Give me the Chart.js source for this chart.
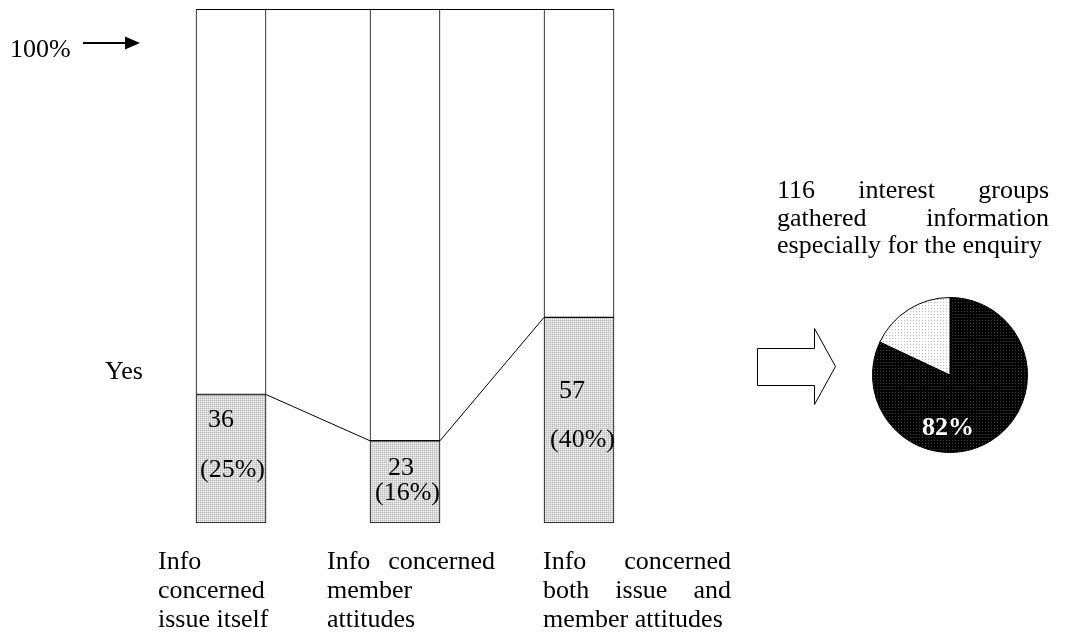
<!DOCTYPE html>
<html><head><meta charset="utf-8">
<script src="https://cdn.jsdelivr.net/npm/chart.js@4"></script>
<style>
html,body{margin:0;padding:0;background:#fff;width:1065px;height:637px;overflow:hidden;}
#wrap{position:relative;width:1065px;height:637px;}
canvas{position:absolute;}
.txt{position:absolute;font-family:'Liberation Serif','Times New Roman',serif;font-size:26px;line-height:29px;color:#000;text-align:justify;}
</style></head>
<body><div id="wrap">
<canvas id="bars" width="1065" height="637" style="left:0;top:0;width:1065px;height:637px"></canvas>
<canvas id="pie" width="160" height="160" style="left:870px;top:295px;width:160px;height:160px"></canvas>
<div class="txt" id="c1" style="left:158px;top:546px;width:118px"></div>
<div class="txt" id="c2" style="left:327px;top:546px;width:168px"></div>
<div class="txt" id="c3" style="left:543px;top:546px;width:188px"></div>
<div class="txt" id="note" style="left:777px;top:176px;width:272px;line-height:27.5px"></div>
</div>
<script>
// ---- data ----
const categories = ['Info concerned issue itself', 'Info concerned member attitudes', 'Info concerned both issue and member attitudes'];
const yesCounts = [36, 23, 57];
const yesPercents = [25, 16, 40];
const pieLabels = ['Gathered information', 'Did not'];
const pieValues = [82, 18];
const noteText = '116 interest groups gathered information especially for the enquiry';
const topLabel = '100%';
const yesLabel = 'Yes';

// label offsets (styling)
const countOffsets = [[12, 32], [18, 34], [15, 81]];
const pctOffsets = [[4, 82], [5, 59], [6, 130]];

const FONT = "'Liberation Serif','Times New Roman',serif";

document.getElementById('c1').textContent = categories[0];
document.getElementById('c2').textContent = categories[1];
document.getElementById('c3').textContent = categories[2];
document.getElementById('note').textContent = noteText;

function gridPattern() {
  const c = document.createElement('canvas');
  c.width = 2; c.height = 2;
  const x = c.getContext('2d');
  x.fillStyle = '#f2f2f2'; x.fillRect(0, 0, 2, 2);
  x.fillStyle = '#d6d6d6'; x.fillRect(0, 0, 2, 1); x.fillRect(0, 0, 1, 2);
  x.fillStyle = '#bdbdbd'; x.fillRect(0, 0, 1, 1);
  return x.createPattern(c, 'repeat');
}
function dotPattern(base, dot) {
  const c = document.createElement('canvas');
  c.width = 3; c.height = 3;
  const x = c.getContext('2d');
  x.fillStyle = base; x.fillRect(0, 0, 3, 3);
  x.fillStyle = dot; x.fillRect(1, 1, 1, 1);
  return x.createPattern(c, 'repeat');
}
const bctx = document.getElementById('bars').getContext('2d');
const greyPat = gridPattern();

const remainder = yesPercents.map(p => 100 - p);

const decor = {
  id: 'decor',
  afterDatasetsDraw(chart) {
    const ctx = chart.ctx;
    const ys = chart.scales.y;
    const m0 = chart.getDatasetMeta(0).data;
    const m1 = chart.getDatasetMeta(1).data;
    ctx.save();
    ctx.strokeStyle = '#000';
    ctx.lineWidth = 1;
    // top line joining bars at 100%
    const yTop = Math.round(ys.getPixelForValue(100)) + 0.5;
    const first = m1[0], last = m1[m1.length - 1];
    ctx.beginPath();
    ctx.moveTo(first.x - first.width / 2, yTop);
    ctx.lineTo(last.x + last.width / 2, yTop);
    ctx.stroke();
    // connecting lines between the Yes levels
    ctx.beginPath();
    for (let i = 0; i < m0.length - 1; i++) {
      const a = m0[i], b = m0[i + 1];
      ctx.moveTo(a.x + a.width / 2, ys.getPixelForValue(yesPercents[i]));
      ctx.lineTo(b.x - b.width / 2, ys.getPixelForValue(yesPercents[i + 1]));
    }
    ctx.stroke();
    // value labels
    ctx.fillStyle = '#000';
    ctx.font = '26px ' + FONT;
    ctx.textBaseline = 'alphabetic';
    ctx.textAlign = 'left';
    m0.forEach((el, i) => {
      const left = el.x - el.width / 2;
      const top = ys.getPixelForValue(yesPercents[i]);
      ctx.fillText(String(yesCounts[i]), left + countOffsets[i][0], top + countOffsets[i][1]);
      ctx.fillText('(' + yesPercents[i] + '%)', left + pctOffsets[i][0], top + pctOffsets[i][1]);
    });
    // 100% label with arrow
    ctx.fillText(topLabel, 10, 57);
    ctx.lineWidth = 2;
    ctx.beginPath(); ctx.moveTo(83, 43); ctx.lineTo(128, 43); ctx.stroke();
    ctx.beginPath(); ctx.moveTo(125, 36.5); ctx.lineTo(140, 43); ctx.lineTo(125, 49.5); ctx.closePath(); ctx.fill();
    // Yes label
    ctx.fillText(yesLabel, 105, 379);
    // block arrow
    ctx.lineWidth = 1;
    ctx.fillStyle = '#fff';
    ctx.beginPath();
    ctx.moveTo(757.5, 348.5); ctx.lineTo(814.5, 348.5); ctx.lineTo(814.5, 328.5);
    ctx.lineTo(835.5, 366.5); ctx.lineTo(814.5, 404.5); ctx.lineTo(814.5, 385.5);
    ctx.lineTo(757.5, 385.5); ctx.closePath();
    ctx.fill(); ctx.stroke();
    ctx.restore();
  }
};

new Chart(bctx, {
  type: 'bar',
  data: {
    labels: categories,
    datasets: [
      { label: 'Yes', data: yesPercents, backgroundColor: greyPat, borderColor: '#000', borderWidth: 1, borderSkipped: false },
      { label: 'Other', data: remainder, backgroundColor: '#fff', borderColor: '#000', borderWidth: 1, borderSkipped: false }
    ]
  },
  options: {
    responsive: false,
    animation: false,
    devicePixelRatio: 1,
    layout: { padding: { left: 144, right: 399, top: 9, bottom: 114 } },
    scales: {
      x: { display: false, stacked: true, offset: true },
      y: { display: false, stacked: true, min: 0, max: 100 }
    },
    datasets: { bar: { categoryPercentage: 1, barThickness: 70 } },
    plugins: { legend: { display: false }, tooltip: { enabled: false } }
  },
  plugins: [decor]
});

const pctx = document.getElementById('pie').getContext('2d');
const darkPat = dotPattern('#000', '#3a3a3a');
const lightPat = dotPattern('#ffffff', '#bdbdbd');
const pieText = {
  id: 'pieText',
  afterDatasetsDraw(chart) {
    const el = chart.getDatasetMeta(0).data[0];
    const ctx = chart.ctx;
    ctx.save();
    ctx.fillStyle = '#fff';
    ctx.font = 'bold 26px ' + FONT;
    ctx.textAlign = 'center';
    ctx.textBaseline = 'alphabetic';
    ctx.fillText(pieValues[0] + '%', el.x - 2, el.y + 60);
    ctx.restore();
  }
};
new Chart(pctx, {
  type: 'pie',
  data: { labels: pieLabels, datasets: [{ data: pieValues, backgroundColor: [darkPat, lightPat], borderColor: '#000', borderWidth: 1 }] },
  options: {
    responsive: false, animation: false, devicePixelRatio: 1,
    layout: { padding: 2 },
    plugins: { legend: { display: false }, tooltip: { enabled: false } }
  },
  plugins: [pieText]
});
</script>
</body></html>
